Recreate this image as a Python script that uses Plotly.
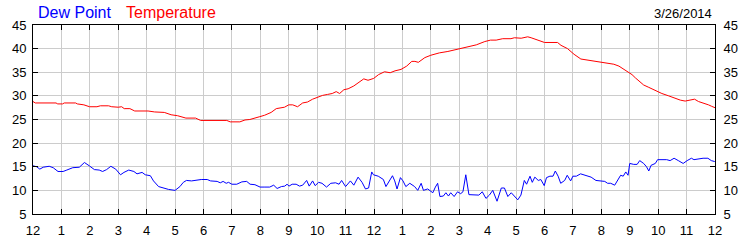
import plotly.graph_objects as go

# hours since midnight
dew_hours = [0.00,0.13,0.24,0.36,0.57,0.71,0.88,1.06,1.19,1.40,1.63,1.81,1.98,2.16,2.33,2.45,2.59,2.74,2.91,3.08,3.20,3.37,3.55,3.66,3.84,3.95,4.13,4.24,4.42,4.59,4.77,5.00,5.17,5.29,5.40,5.58,5.69,5.92,6.13,6.25,6.48,6.59,6.69,6.80,6.88,7.00,7.17,7.35,7.52,7.64,7.81,7.99,8.16,8.33,8.47,8.59,8.74,8.86,8.94,9.01,9.12,9.26,9.38,9.49,9.63,9.72,9.84,9.93,10.05,10.17,10.33,10.48,10.65,10.77,10.86,11.00,11.17,11.29,11.44,11.58,11.70,11.81,11.92,11.98,12.15,12.33,12.42,12.54,12.65,12.73,12.81,12.93,13.02,13.12,13.26,13.43,13.54,13.66,13.74,13.89,14.07,14.16,14.24,14.32,14.44,14.53,14.62,14.70,14.82,14.94,15.05,15.13,15.23,15.34,15.52,15.69,15.81,15.94,16.06,16.18,16.33,16.48,16.59,16.71,16.83,16.97,17.06,17.17,17.29,17.37,17.49,17.57,17.66,17.78,17.87,17.99,18.07,18.19,18.30,18.38,18.48,18.57,18.71,18.80,18.92,19.00,19.12,19.27,19.46,19.64,19.81,19.99,20.12,20.22,20.33,20.47,20.57,20.68,20.77,20.86,20.94,21.00,21.14,21.26,21.35,21.49,21.59,21.67,21.75,21.90,21.98,22.13,22.30,22.42,22.56,22.71,22.88,23.02,23.17,23.26,23.41,23.58,23.75,23.87,23.99]
dew_point = [15.2,15.0,14.5,14.9,15.1,14.8,14.0,14.0,14.3,14.8,14.9,15.9,15.2,14.4,14.3,14.0,14.4,15.1,14.5,13.3,13.8,14.3,14.0,13.5,13.8,13.3,13.1,12.0,10.8,10.5,10.2,10.0,10.8,11.7,12.1,12.0,12.1,12.3,12.3,12.0,11.9,11.6,11.9,11.5,11.7,11.3,11.3,11.8,11.9,11.3,11.2,10.7,10.7,10.7,11.1,10.4,10.8,10.9,11.3,10.9,11.3,11.3,10.9,11.1,12.1,10.9,12.0,11.0,11.7,11.5,10.7,11.5,11.6,11.3,12.1,10.8,12.0,11.1,12.8,11.7,10.3,10.5,13.9,13.3,13.0,12.3,10.8,12.0,13.1,12.0,10.3,12.7,12.0,10.8,11.5,10.8,10.0,11.5,10.0,10.3,9.5,10.7,11.5,8.7,8.8,9.5,8.8,9.5,8.7,9.7,9.3,9.7,13.3,9.1,9.1,9.0,9.7,8.3,9.0,10.0,7.7,10.5,10.5,8.7,9.5,8.7,8.0,9.0,12.1,11.3,13.0,11.7,12.8,12.1,12.3,11.0,12.7,13.0,13.0,14.1,13.0,11.5,12.1,13.2,12.0,13.0,13.0,13.5,13.2,12.8,12.1,11.9,11.9,11.5,11.5,11.1,12.0,13.2,13.0,13.9,13.2,15.7,15.5,15.5,16.3,15.7,15.0,14.1,15.3,15.7,16.5,16.5,16.5,16.3,16.8,16.3,15.7,16.3,16.8,16.5,16.7,16.8,16.8,16.3,16.1]

temp_hours = [0.00,0.08,0.81,0.87,1.04,1.10,1.50,1.56,1.79,1.99,2.25,2.37,2.66,2.77,3.00,3.12,3.21,3.41,3.58,4.05,4.28,4.62,4.86,5.09,5.38,5.72,5.90,6.82,6.94,7.28,7.46,7.63,7.98,8.15,8.38,8.56,8.85,9.00,9.14,9.31,9.49,9.66,9.84,10.01,10.19,10.36,10.53,10.67,10.79,10.94,11.09,11.29,11.47,11.64,11.79,11.99,12.16,12.37,12.57,12.74,12.95,13.15,13.33,13.44,13.56,13.70,13.79,14.00,14.30,14.60,15.00,15.30,15.60,15.90,16.10,16.30,16.53,16.82,16.94,17.18,17.41,17.53,17.82,18.00,18.46,18.58,18.81,19.04,19.28,19.51,19.80,20.03,20.27,20.44,20.62,20.79,20.97,21.08,21.20,21.38,21.49,21.67,21.90,22.13,22.37,22.54,22.78,22.95,23.13,23.28,23.42,23.60,23.77,23.88,24.00]
temperature = [28.8,28.5,28.5,28.3,28.3,28.5,28.5,28.3,28.1,27.7,27.7,27.9,27.9,27.7,27.6,27.7,27.3,27.3,26.8,26.8,26.6,26.5,26.0,25.8,25.3,25.3,24.8,24.8,24.5,24.5,24.9,25.0,25.6,25.9,26.5,27.3,27.6,28.1,28.1,27.7,28.5,28.7,29.3,29.7,30.1,30.3,30.5,30.9,30.5,31.3,31.5,32.1,32.9,33.6,33.3,33.7,34.5,35.1,34.9,35.3,35.6,36.3,37.3,37.3,37.1,37.8,38.1,38.6,39.1,39.4,39.9,40.4,40.8,41.5,41.8,41.8,42.1,42.1,42.3,42.2,42.5,42.3,41.7,41.3,41.3,40.7,40.0,38.8,37.8,37.6,37.3,37.1,36.9,36.7,36.3,35.6,34.8,34.5,33.8,32.8,32.3,31.8,31.1,30.5,30.0,29.6,29.1,28.9,29.1,29.3,28.8,28.5,28.1,27.8,27.5]

x_tickvals = list(range(0, 25))
x_ticktext = ["12","1","2","3","4","5","6","7","8","9","10","11","12","1","2","3","4","5","6","7","8","9","10","11","12"]
y_tickvals = [5,10,15,20,25,30,35,40,45]
date_label = "3/26/2014"

FONT = "Arial, 'Liberation Sans', sans-serif"

fig = go.Figure()
fig.add_trace(go.Scatter(x=temp_hours, y=temperature, mode="lines",
                         line=dict(color="#ff0000", width=1), name="Temperature", hoverinfo="skip"))
fig.add_trace(go.Scatter(x=dew_hours, y=dew_point, mode="lines",
                         line=dict(color="#0000ff", width=1), name="Dew Point", hoverinfo="skip"))
fig.add_trace(go.Scatter(x=[0], y=[5], mode="markers", marker=dict(opacity=0),
                         yaxis="y2", showlegend=False, hoverinfo="skip"))

axis_common = dict(showline=True, linecolor="black", linewidth=1, ticks="inside",
                   ticklen=5, tickcolor="black", tickwidth=1,
                   showgrid=True, gridcolor="#cccccc", gridwidth=1, zeroline=False,
                   tickfont=dict(family=FONT, size=13, color="black"))

fig.update_layout(
    width=750, height=250,
    margin=dict(l=30, r=30, t=25, b=25),
    paper_bgcolor="white", plot_bgcolor="white",
    showlegend=False,
    xaxis=dict(range=[0, 24], tickvals=x_tickvals, ticktext=x_ticktext, mirror="ticks",
               ticklabelstandoff=4, **axis_common),
    yaxis=dict(range=[5, 45], tickvals=y_tickvals, mirror="ticks", ticklabelstandoff=3, **axis_common),
    yaxis2=dict(range=[5, 45], tickvals=y_tickvals, overlaying="y", side="right", matches="y",
                ticklabelstandoff=5, **axis_common),
    annotations=[
        dict(text="Dew Point", x=(33-30)/690, y=1+13.5/200, xref="paper", yref="paper",
             xanchor="left", yanchor="middle", showarrow=False,
             font=dict(family=FONT, size=16, color="#0000ff")),
        dict(text="Temperature", x=(122-30)/690, y=1+13.5/200, xref="paper", yref="paper",
             xanchor="left", yanchor="middle", showarrow=False,
             font=dict(family=FONT, size=16, color="#ff0000")),
        dict(text=date_label, x=(719-30)/690, y=1+12.5/200, xref="paper", yref="paper",
             xanchor="right", yanchor="middle", showarrow=False,
             font=dict(family=FONT, size=13, color="black")),
    ],
)

fig.write_html("out.html")
